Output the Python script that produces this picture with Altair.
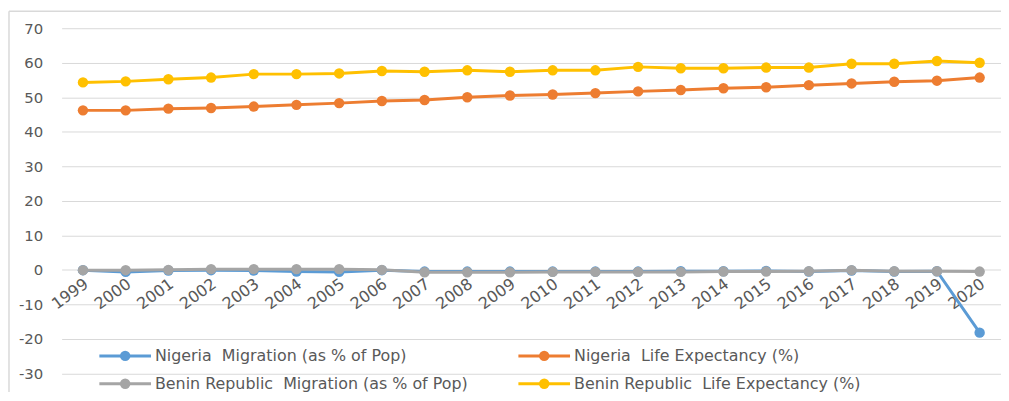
import altair as alt
import pandas as pd

years = list(range(1999, 2021))
ng_mig = [-0.1, -0.6, -0.2, -0.1, -0.2, -0.5, -0.6, -0.1, -0.5, -0.5, -0.5,
          -0.5, -0.5, -0.5, -0.4, -0.4, -0.3, -0.5, -0.2, -0.5, -0.4, -18.2]
ng_life = [46.2, 46.2, 46.7, 46.9, 47.3, 47.8, 48.3, 48.9, 49.2, 50.0, 50.5,
           50.8, 51.2, 51.7, 52.1, 52.6, 52.9, 53.5, 54.0, 54.5, 54.8, 55.7]
bj_mig = [-0.1, -0.1, 0.0, 0.2, 0.2, 0.2, 0.2, 0.0, -0.7, -0.7, -0.7,
          -0.6, -0.6, -0.6, -0.6, -0.5, -0.5, -0.4, -0.1, -0.4, -0.4, -0.5]
bj_life = [54.3, 54.6, 55.2, 55.7, 56.7, 56.7, 56.9, 57.6, 57.4, 57.8, 57.4,
           57.8, 57.8, 58.8, 58.4, 58.4, 58.6, 58.6, 59.7, 59.7, 60.5, 60.0]

series = ["Nigeria\u00a0 Migration (as % of Pop)", "Nigeria\u00a0 Life Expectancy (%)",
          "Benin Republic\u00a0 Migration (as % of Pop)", "Benin Republic\u00a0 Life Expectancy (%)"]
colors = ["#5B9BD5", "#ED7D31", "#A5A5A5", "#FFC000"]
y_ticks = [-30, -20, -10, 0, 10, 20, 30, 40, 50, 60, 70]

FONT = "DejaVu Sans"
W, H = 946, 365
Y_DOMAIN = [-35, 70]
ZERO_OFFSET = -(H - H * (Y_DOMAIN[1] - 0) / (Y_DOMAIN[1] - Y_DOMAIN[0]))

values = [ng_mig, ng_life, bj_mig, bj_life]
color_scale = alt.Scale(domain=series, range=colors)

x_axis = alt.Axis(title=None, orient="bottom", offset=ZERO_OFFSET,
                  domain=False, ticks=False, grid=False, labelOverlap=False,
                  labelAngle=324, labelAlign="right", labelBaseline="middle",
                  labelPadding=12, labelOffset=3,
                  labelFont=FONT, labelFontSize=16, labelColor="#595959")
y_axis = alt.Axis(title=None, values=y_ticks, tickCount=11, domain=False, ticks=False,
                  grid=True, gridColor="#D9D9D9", gridWidth=1,
                  labelOverlap=False, labelExpr="'' + datum.value",
                  labelPadding=19, labelFont=FONT, labelFontSize=15,
                  labelColor="#595959")

layers = []
for name, vals in zip(series, values):
    df = pd.DataFrame({"year": years, "value": vals, "series": name})
    base = alt.Chart(df).encode(
        x=alt.X("year:O", scale=alt.Scale(type="point", padding=0.5), axis=x_axis),
        y=alt.Y("value:Q", scale=alt.Scale(domain=Y_DOMAIN, nice=False, zero=False),
                axis=y_axis),
        color=alt.Color("series:N", scale=color_scale, legend=None),
    )
    layers.append(base.mark_line(strokeWidth=3))
    layers.append(base.mark_circle(size=110, opacity=1))

# manual legend (2 columns x 2 rows)
leg = pd.DataFrame({"series": series})
leg["col"] = [i % 2 for i in range(len(series))]
leg["row"] = [i // 2 for i in range(len(series))]
leg["lx0"] = 38 + leg["col"] * 422
leg["lx1"] = leg["lx0"] + 52
leg["mx"] = leg["lx0"] + 26
leg["tx"] = leg["lx0"] + 56
leg["ly"] = 330 + leg["row"] * 28

lbase = alt.Chart(leg)
leg_line = lbase.mark_rule(strokeWidth=3).encode(
    x=alt.X("lx0:Q", scale=None), x2="lx1:Q", y=alt.Y("ly:Q", scale=None),
    color=alt.Color("series:N", scale=color_scale, legend=None))
leg_pt = lbase.mark_circle(size=110, opacity=1).encode(
    x=alt.X("mx:Q", scale=None), y=alt.Y("ly:Q", scale=None),
    color=alt.Color("series:N", scale=color_scale, legend=None))
leg_txt = lbase.mark_text(align="left", baseline="middle", font=FONT, fontSize=16,
                          color="#595959").encode(
    x=alt.X("tx:Q", scale=None), y=alt.Y("ly:Q", scale=None), text="series:N")

# chart frame
frame_df = pd.DataFrame({"k": [0]})
frame_left = alt.Chart(frame_df).mark_rule(color="#D9D9D9", strokeWidth=1.5).encode(
    x=alt.value(-53), y=alt.value(-17), y2=alt.value(H + 20))
frame_top = alt.Chart(frame_df).mark_rule(color="#D9D9D9", strokeWidth=1.5).encode(
    x=alt.value(-53), x2=alt.value(W + 20), y=alt.value(-17))

chart = alt.layer(*layers, leg_line, leg_pt, leg_txt, frame_left, frame_top).resolve_scale(
    x="shared", y="shared"
).properties(
    width=W, height=H,
    autosize=alt.AutoSizeParams(type="none"),
    padding={"left": 54, "top": 19, "right": 0, "bottom": 0},
    background="white",
).configure_view(stroke=None)

chart.save("out.html", embed_options={"renderer": "svg", "actions": False})
